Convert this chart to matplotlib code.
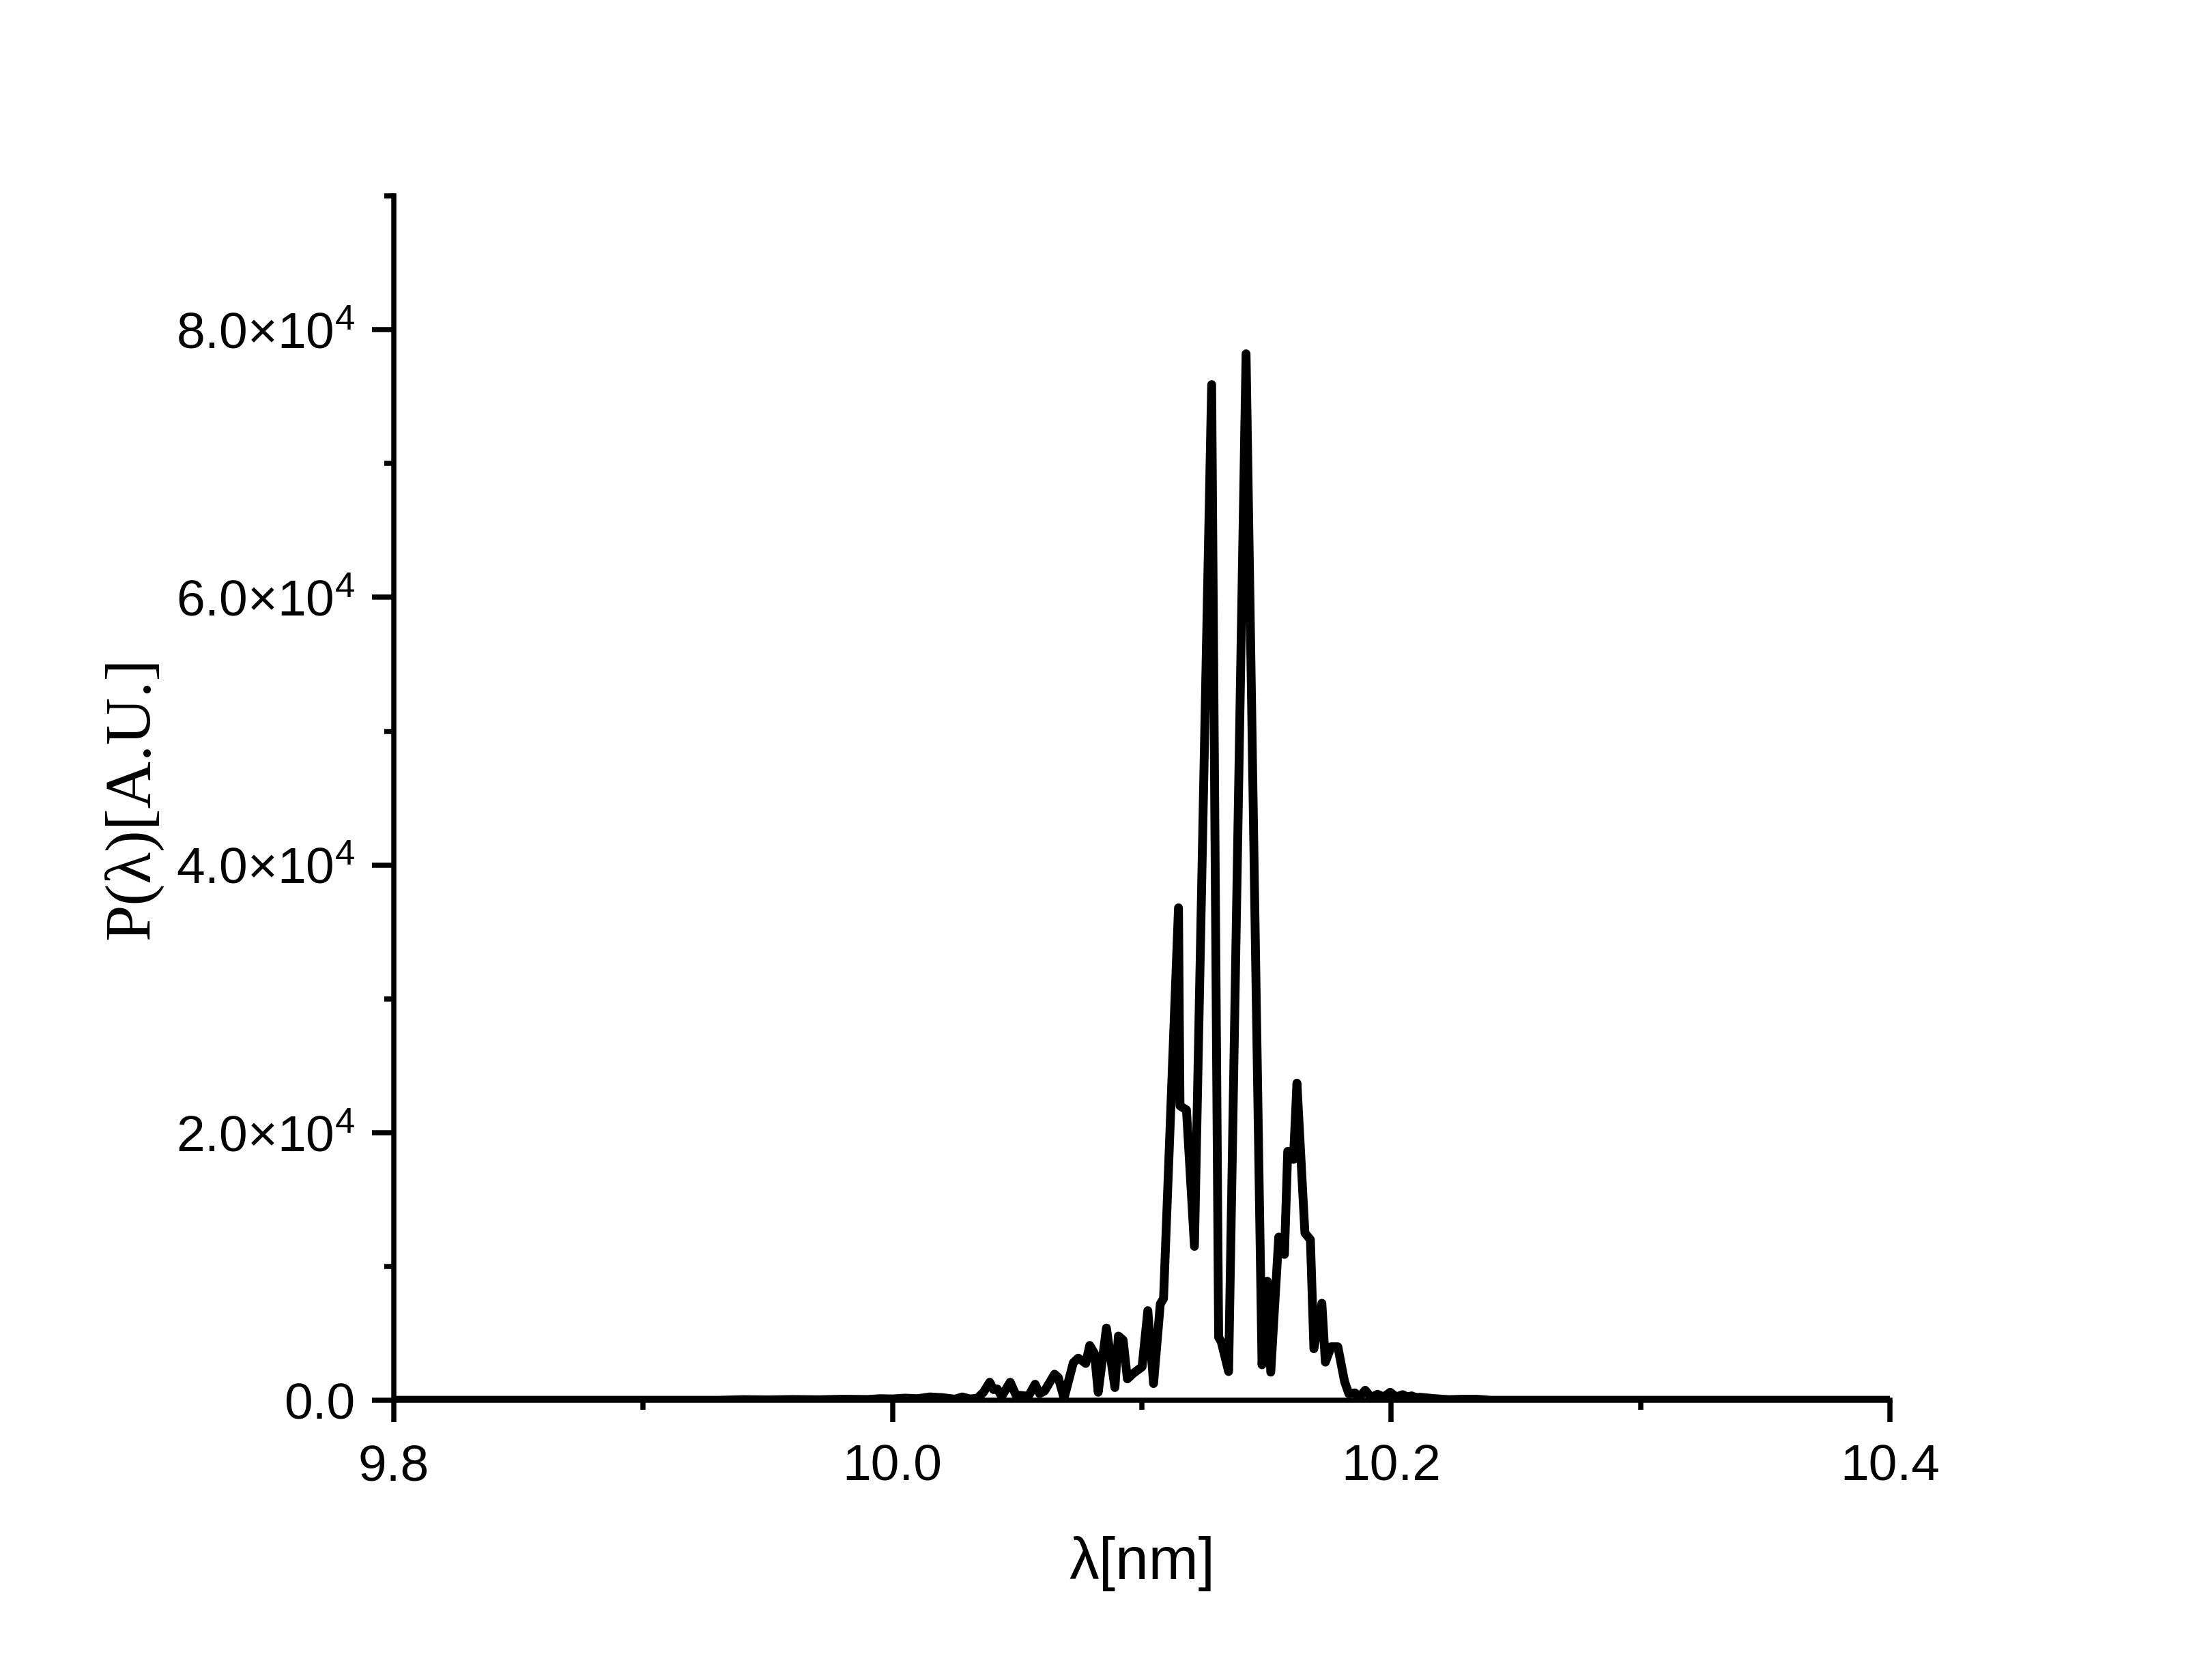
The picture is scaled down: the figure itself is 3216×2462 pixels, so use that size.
import matplotlib
matplotlib.use("Agg")
import matplotlib.pyplot as plt
from matplotlib.ticker import MultipleLocator, FuncFormatter, FormatStrFormatter

plt.rcParams['font.family'] = ['Liberation Sans', 'DejaVu Sans']
plt.rcParams['mathtext.fontset'] = 'custom'
plt.rcParams['mathtext.rm'] = 'Liberation Sans'
plt.rcParams['mathtext.it'] = 'Liberation Sans:italic'
plt.rcParams['mathtext.bf'] = 'Liberation Sans:bold'

# wavelength [nm]
wavelength = [
    9.800, 9.930, 9.940, 9.950, 9.960, 9.970, 9.980, 9.990, 9.995, 10.000,
    10.005, 10.010, 10.015, 10.020, 10.025, 10.028, 10.031, 10.034, 10.0365, 10.0390,
    10.0405, 10.0420, 10.0438, 10.0472, 10.0495, 10.0520, 10.0545, 10.0572, 10.0590, 10.0610,
    10.0650, 10.0665, 10.0688, 10.0725, 10.0745, 10.0765, 10.0775, 10.0791, 10.0810, 10.0825,
    10.0858, 10.0892, 10.0906, 10.0925, 10.0942, 10.0965, 10.1001, 10.1024, 10.1047, 10.1074,
    10.1087, 10.1147, 10.1153, 10.1179, 10.1211, 10.1280, 10.1308, 10.1318, 10.1348, 10.1418,
    10.1482, 10.1503, 10.1517, 10.1549, 10.1572, 10.1585, 10.1608, 10.1622, 10.1654, 10.1676,
    10.1690, 10.1722, 10.1736, 10.1759, 10.1786, 10.1813, 10.1830, 10.1855, 10.1870, 10.1896,
    10.1920, 10.1945, 10.1970, 10.1996, 10.2020, 10.2046, 10.2065, 10.2082, 10.2100, 10.2115,
    10.2169, 10.2230, 10.2288, 10.2343, 10.2400, 10.400,
]
# P(lambda) [A.U.]
power = [
    0, 0, 50, 30, 60, 40, 80, 60, 120, 100,
    160, 120, 250, 200, 80, 250, 100, 150, 600, 1350,
    800, 850, 300, 1350, 400, 350, 300, 1200, 500, 700,
    1950, 1700, 150, 2800, 3150, 2900, 2750, 4100, 3500, 600,
    5400, 950, 4800, 4500, 1600, 2000, 2500, 6700, 1250, 7200,
    7600, 36800, 22000, 21700, 11500, 75900, 4700, 4400, 2150, 78200,
    2650, 8900, 2100, 12200, 10900, 18600, 18000, 23700, 12500, 12000,
    3850, 7250, 2850, 4000, 4000, 1400, 500, 550, 200, 750,
    200, 450, 250, 600, 250, 420, 250, 330, 200, 230,
    130, 50, 80, 80, 0, 0,
]

x_limits = (9.8, 10.4)
y_limits = (0, 90000)

fig = plt.figure(figsize=(10.72, 8.2067), dpi=300)
ax = fig.add_axes([0.1794, 0.1665, 0.8610 - 0.1794, 0.8834 - 0.1665])

ax.plot(wavelength, power, color='black', lw=3.1,
        solid_joinstyle='round', solid_capstyle='round', zorder=3)

ax.set_xlim(*x_limits)
ax.set_ylim(*y_limits)

for s in ('top', 'right'):
    ax.spines[s].set_visible(False)
for s in ('left', 'bottom'):
    ax.spines[s].set_linewidth(1.8)

ax.xaxis.set_major_locator(MultipleLocator(0.2))
ax.xaxis.set_minor_locator(MultipleLocator(0.1))
ax.xaxis.set_major_formatter(FormatStrFormatter('%.1f'))
ax.yaxis.set_major_locator(MultipleLocator(20000))
ax.yaxis.set_minor_locator(MultipleLocator(10000))


def yfmt(v, pos):
    if abs(v) < 1e-9:
        return '0.0'
    exp = 0
    m = v
    while abs(m) >= 10:
        m /= 10.0
        exp += 1
    return '%.1f×10$^{\\mathregular{%d}}$' % (m, exp)


ax.yaxis.set_major_formatter(FuncFormatter(yfmt))

ax.tick_params(which='major', direction='out', length=7.7, width=1.8, labelsize=18)
ax.tick_params(axis='x', which='major', pad=7.5)
ax.tick_params(axis='y', which='major', pad=6)
ax.tick_params(which='minor', direction='out', length=3.4, width=1.8)

ax.set_xlabel('λ[nm]', fontsize=21, va='center')
ax.xaxis.set_label_coords(0.5, -0.1354)
ax.set_ylabel('P(λ)[A.U.]', fontsize=23, family=['Liberation Serif', 'DejaVu Serif'],
              va='center')
ax.yaxis.set_label_coords(-0.1743, 0.5)

fig.savefig('out.png', dpi=300, facecolor='white')
